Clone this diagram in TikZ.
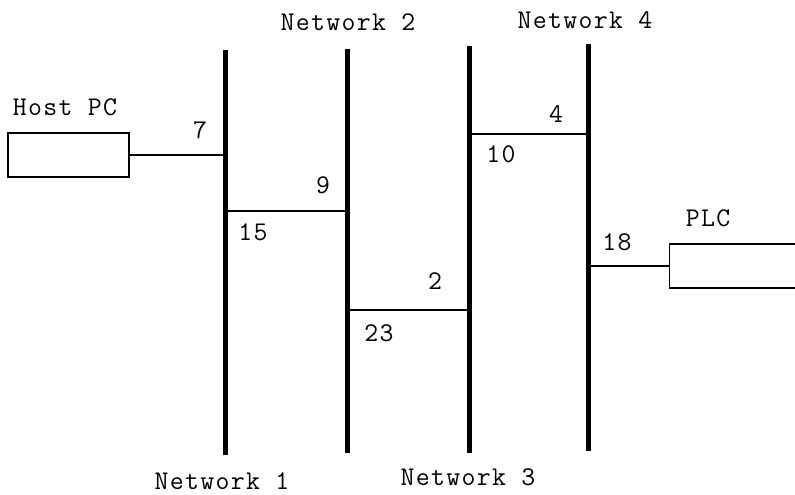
\documentclass[tikz,border=0pt]{standalone}
\usepackage{fontspec}
\setmainfont[LetterSpace=5]{Latin Modern Mono}
\begin{document}
\begin{tikzpicture}[x=1pt,y=-1pt,
  bus/.style={line width=5pt},
  link/.style={line width=1.3pt},
  devbox/.style={draw,line width=1.3pt,rectangle,inner sep=0pt},
  lbl/.style={font=\fontsize{27}{32}\selectfont,inner sep=0pt}]
\useasboundingbox (0,0) rectangle (795,495);
% bus end points
\coordinate (n1t) at (225,50);  \coordinate (n1b) at (225,455);
\coordinate (n2t) at (347,49);  \coordinate (n2b) at (347,453);
\coordinate (n3t) at (469,46);  \coordinate (n3b) at (469,453);
\coordinate (n4t) at (588,44);  \coordinate (n4b) at (588,451);
\draw[bus] (n1t) -- (n1b);
\draw[bus] (n2t) -- (n2b);
\draw[bus] (n3t) -- (n3b);
\draw[bus] (n4t) -- (n4b);
% devices
\node[devbox,minimum width=121pt,minimum height=44pt] (pc) at (68.5,155) {};
\node[devbox,minimum width=160pt,minimum height=44pt,anchor=west] (plc) at (669,266) {};
% junctions
\coordinate (j1) at (225,155);
\coordinate (j12a) at (225,211); \coordinate (j12b) at (347,211);
\coordinate (j23a) at (347,310); \coordinate (j23b) at (469,310);
\coordinate (j34a) at (469,134); \coordinate (j34b) at (588,134);
\coordinate (j4) at (588,266);
\draw[link] (pc.east) -- (j1);
\draw[link] (j12a) -- (j12b);
\draw[link] (j23a) -- (j23b);
\draw[link] (j34a) -- (j34b);
\draw[link] (j4) -- (plc.west);
% labels
\node[lbl] (lpc) at (65,107) {Host PC};
\node[lbl] (lplc) at (708,218) {PLC};
\node[lbl] (l7) at (200,130) {7};
\node[lbl] (l9) at (323,185) {9};
\node[lbl] (l15) at (253,232) {15};
\node[lbl] (l2) at (435,281) {2};
\node[lbl] (l23) at (379,333) {23};
\node[lbl] (l4) at (556,114) {4};
\node[lbl] (l10) at (501,154) {10};
\node[lbl] (l18) at (617,242) {18};
\node[lbl] (ln1) at (222,481) {Network 1};
\node[lbl] (ln2) at (348,22) {Network 2};
\node[lbl] (ln3) at (468,477) {Network 3};
\node[lbl] (ln4) at (585,20) {Network 4};
\end{tikzpicture}
\end{document}
